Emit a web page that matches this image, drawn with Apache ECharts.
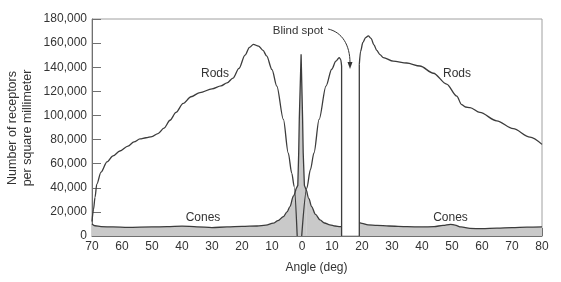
<!DOCTYPE html>
<html><head><meta charset="utf-8">
<script src="https://cdn.jsdelivr.net/npm/echarts@6/dist/echarts.min.js"></script>
<style>html,body{margin:0;padding:0;background:#fff}#c{width:561px;height:282px}</style>
</head><body><div id="c"></div>
<script>
// ---- data (angle in degrees: negative = temporal side shown as positive labels) ----
const xTicks = [-70,-60,-50,-40,-30,-20,-10,0,10,20,30,40,50,60,70,80];
const yTicks = [0,20000,40000,60000,80000,100000,120000,140000,160000,180000];

const rodsTemporal = [[-70,12000],[-69.5,22000],[-69,32000],[-68.4,43000],[-67,53000],[-65,61500],[-63,66500],[-60.7,70500],[-58,74500],[-56,78000],[-54,80500],[-52,81500],[-50,82500],[-48,85000],[-46,89500],[-44,96000],[-42,102500],[-39.6,110000],[-37,115500],[-34,119000],[-30,122000],[-27,124500],[-25,127000],[-23,131000],[-21,139000],[-19,150000],[-17.5,156500],[-16.2,159000],[-14.5,157500],[-13,154000],[-11.8,149400],[-10,138000],[-8.4,124400],[-6.2,96700],[-4.6,69000],[-3.4,52000],[-2.6,41000],[-1.6,0]];
const rodsNasalInner = [[-0.1,0],[1.6,39700],[2.8,55000],[4,69000],[5.7,96700],[8,124400],[9.9,138300],[11.3,145000],[12.4,148000],[12.9,146500],[13.2,141000]];
const blindEdgeLeft = [[13.2,141000],[13.2,0]];
const blindEdgeRight = [[19.1,0],[19.1,142000]];
const rodsNasalOuter = [[19.1,142000],[19.5,153000],[20.3,160500],[21.2,164500],[22.1,166000],[23,164000],[24,158500],[24.9,154000],[26,150500],[27.1,148000],[30.4,145000],[34.9,143500],[39.3,141000],[43.8,135000],[48.2,126000],[51.6,116000],[53.2,109000],[54.5,107000],[56,106500],[59.3,102500],[64.9,95500],[70.4,89000],[76,82000],[80,76000]];

const conesTemporal = [[-70,10000],[-69,8500],[-67,7800],[-63,7500],[-58,7200],[-50,7500],[-45,7800],[-40,8200],[-35,7600],[-30,7000],[-25,7500],[-20,8000],[-15,8300],[-12,9000],[-9.6,10600],[-8,12800],[-6.2,16100],[-5,20000],[-4,24400],[-2.9,33000],[-2.0,39000]];
const conesFovea = [[-2.0,39000],[-1.4,42000],[-1.1,69000],[-0.9,97000],[-0.3,150800],[0.2,97000],[0.4,69000],[0.8,42000],[1.6,37000]];
const conesNasalInner = [[1.6,37000],[2.3,31000],[3.2,24400],[4.5,18000],[6,13300],[7.5,10800],[9.3,9200],[11,8300],[12.7,7800],[13.2,7800]];
const conesNasalOuter = [[19.1,11000],[20,10500],[22,9300],[25,8800],[29,8300],[35,7800],[40,7500],[44,7800],[47,8800],[49.5,9700],[51,9000],[53,7500],[56,6300],[60,6100],[65,6500],[70,7000],[75,7300],[80,7500]];

const labels = {rods:'Rods', cones:'Cones', blind:'Blind spot', xTitle:'Angle (deg)', yTitle1:'Number of receptors', yTitle2:'per square millimeter'};

// ---- chart ----
const FONT = "'Liberation Sans', Arial, sans-serif";
const LINE = '#3c3c3c';
const FILL = '#c9c9c9';
const chart = echarts.init(document.getElementById('c'), null, {renderer:'canvas'});

function lineSeries(data, smooth, area, z) {
  return {
    type:'line', data:data, symbol:'none', smooth:smooth, smoothMonotone: smooth ? 'x' : undefined,
    lineStyle:{color:LINE, width:1.3},
    areaStyle: area ? {color:FILL, opacity:1} : undefined,
    z: z, silent:true, animation:false
  };
}

const option = {
  animation:false,
  backgroundColor:'#fff',
  grid:{left:92, right:19, top:19, bottom:46, show:true, borderColor:'#a0a0a0', borderWidth:1, backgroundColor:'transparent'},
  xAxis:{
    type:'value', min:-70, max:80, interval:10,
    axisLine:{show:true, onZero:false, lineStyle:{color:'#707070', width:1}},
    axisTick:{show:true, inside:true, length:8, lineStyle:{color:'#707070'}},
    axisLabel:{color:'#333', fontSize:12, fontFamily:FONT, margin:5, formatter:v=>String(Math.abs(v))},
    splitLine:{show:false}
  },
  yAxis:{
    type:'value', min:0, max:180000, interval:20000,
    axisLine:{show:true, onZero:false, lineStyle:{color:'#707070', width:1}},
    axisTick:{show:true, inside:true, length:9, lineStyle:{color:'#707070'}},
    axisLabel:{color:'#333', fontSize:12, fontFamily:FONT, margin:5, formatter:v=>v.toLocaleString('en-US')},
    splitLine:{show:false}
  },
  series:[
    lineSeries(conesTemporal, 0.3, true, 2),
    lineSeries(conesFovea, false, true, 2),
    lineSeries(conesNasalInner, 0.3, true, 2),
    lineSeries(conesNasalOuter, 0.3, true, 2),
    lineSeries(rodsTemporal, 0.3, false, 3),
    lineSeries(rodsNasalInner, 0.3, false, 3),
    lineSeries(blindEdgeLeft, false, false, 3),
    lineSeries(blindEdgeRight, false, false, 3),
    lineSeries(rodsNasalOuter, 0.3, false, 3)
  ]
};
chart.setOption(option);

const txt = (x,y,s,size,extra) => Object.assign({type:'text', x:x, y:y, style:{text:s, fill:'#333', font:`${size}px ${FONT}`, align:'center', verticalAlign:'middle'}, z:10}, extra||{});
chart.setOption({graphic:[
  txt(215,74,labels.rods,12),
  txt(457,74,labels.rods,12),
  txt(203,217.5,labels.cones,12),
  txt(450.5,217.5,labels.cones,12),
  txt(298,31,labels.blind,11.5),
  txt(316.5,268,labels.xTitle,12),
  txt(13,128,labels.yTitle1,12.5,{rotation:Math.PI/2}),
  txt(28,128,labels.yTitle2,12.5,{rotation:Math.PI/2}),
  {type:'bezierCurve', shape:{x1:328,y1:29,cpx1:342,cpy1:32,cpx2:350,cpy2:45,x2:350,y2:63}, style:{stroke:'#333', lineWidth:1, fill:null}, z:10},
  {type:'polygon', shape:{points:[[347.5,62],[352.5,62],[350,69]]}, style:{fill:'#333'}, z:10}
]});
</script></body></html>
